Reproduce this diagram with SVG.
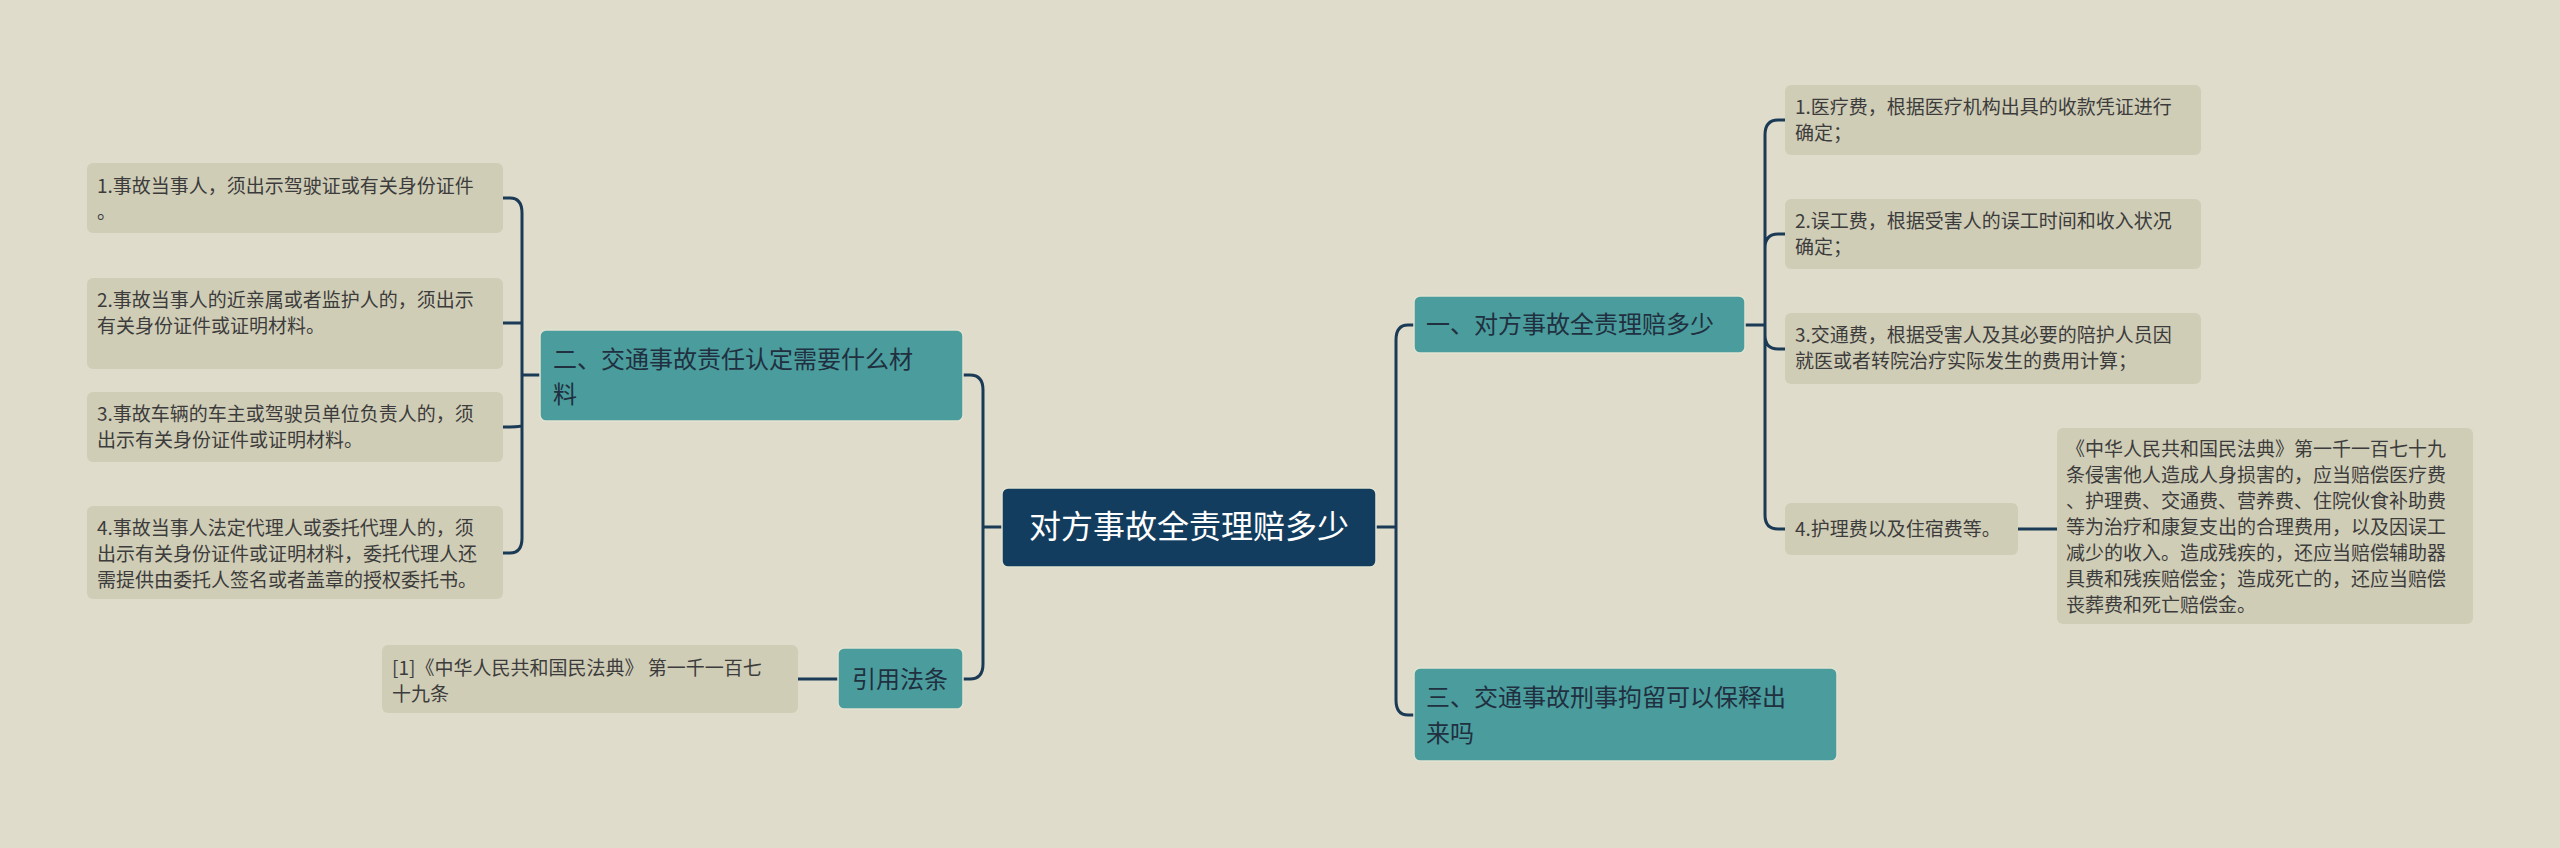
<svg xmlns="http://www.w3.org/2000/svg" width="2560" height="848" viewBox="0 0 2560 848">
<style>
text{font-family:"Noto Sans CJK SC","Noto Sans",sans-serif}
.leaf{fill:#d0cdb6}
.lt{font-size:19px;fill:#3c3c3c}
.br{fill:#4b9c9c;stroke:#e2e2d0;stroke-width:1.5}
.bt{font-size:24px;fill:#203040}
.c{fill:none;stroke:#1b3a55;stroke-width:3}
</style>
<rect width="2560" height="848" fill="#dfdccc"/>
<g id="connectors">
<path class="c" d="M1002 527 H983 M983 527 V390 Q983 375 970 375 H963 M983 527 V664 Q983 679 970 679 H963"/>
<path class="c" d="M540 375 H522 M522 375 V213 Q522 198 510 198 H503 M522 375 V538 Q522 553 510 553 H503 M522 323 Q522 323 510 323 H503 M522 425 Q522 427 510 427 H503 M522 213 V538"/>
<path class="c" d="M838 679 H798"/>
<path class="c" d="M1376 527 H1396 M1396 527 V340 Q1396 325 1408 325 H1414 M1396 527 V700 Q1396 715 1408 715 H1414"/>
<path class="c" d="M1745 325 H1765 M1765 135 V515 Q1765 529 1778 529 H1785 M1765 135 Q1765 120 1778 120 H1785 M1765 248 Q1765 234 1778 234 H1785 M1765 335 Q1765 349 1778 349 H1785"/>
<path class="c" d="M2018 529 H2057"/>
</g>
<g id="root"><rect x="1002" y="488" width="374" height="79" rx="6" fill="#133d5e" stroke="#e2e2d0" stroke-width="1.5"/><text x="1189" y="538" text-anchor="middle" font-size="32" fill="#ffffff">对方事故全责理赔多少</text></g>
<g id="b2"><rect class="br" x="540" y="330" width="423" height="91" rx="6"/><text class="bt" x="553" y="368">二、交通事故责任认定需要什么材</text><text class="bt" x="553" y="403">料</text></g>
<g id="cite"><rect class="br" x="838" y="648" width="125" height="61" rx="6"/><text class="bt" x="900" y="688" text-anchor="middle">引用法条</text></g>
<g id="l1"><rect class="leaf" x="87" y="163" width="416" height="70" rx="6"/><text class="lt" x="97" y="193">1.事故当事人，须出示驾驶证或有关身份证件</text><text class="lt" x="97" y="219">。</text></g>
<g id="l2"><rect class="leaf" x="87" y="278" width="416" height="91" rx="6"/><text class="lt" x="97" y="307">2.事故当事人的近亲属或者监护人的，须出示</text><text class="lt" x="97" y="333">有关身份证件或证明材料。</text></g>
<g id="l3"><rect class="leaf" x="87" y="392" width="416" height="70" rx="6"/><text class="lt" x="97" y="421">3.事故车辆的车主或驾驶员单位负责人的，须</text><text class="lt" x="97" y="447">出示有关身份证件或证明材料。</text></g>
<g id="l4"><rect class="leaf" x="87" y="506" width="416" height="93" rx="6"/><text class="lt" x="97" y="535">4.事故当事人法定代理人或委托代理人的，须</text><text class="lt" x="97" y="561">出示有关身份证件或证明材料，委托代理人还</text><text class="lt" x="97" y="587">需提供由委托人签名或者盖章的授权委托书。</text></g>
<g id="c1"><rect class="leaf" x="382" y="645" width="416" height="68" rx="6"/><text class="lt" x="392" y="675">[1]《中华人民共和国民法典》 第一千一百七</text><text class="lt" x="392" y="701">十九条</text></g>
<g id="b1"><rect class="br" x="1414" y="296" width="331" height="57" rx="6"/><text class="bt" x="1426" y="333">一、对方事故全责理赔多少</text></g>
<g id="b3"><rect class="br" x="1414" y="668" width="423" height="93" rx="6"/><text class="bt" x="1426" y="706">三、交通事故刑事拘留可以保释出</text><text class="bt" x="1426" y="742">来吗</text></g>
<g id="r1"><rect class="leaf" x="1785" y="85" width="416" height="70" rx="6"/><text class="lt" x="1795" y="114">1.医疗费，根据医疗机构出具的收款凭证进行</text><text class="lt" x="1795" y="140">确定；</text></g>
<g id="r2"><rect class="leaf" x="1785" y="199" width="416" height="70" rx="6"/><text class="lt" x="1795" y="228">2.误工费，根据受害人的误工时间和收入状况</text><text class="lt" x="1795" y="254">确定；</text></g>
<g id="r3"><rect class="leaf" x="1785" y="313" width="416" height="71" rx="6"/><text class="lt" x="1795" y="342">3.交通费，根据受害人及其必要的陪护人员因</text><text class="lt" x="1795" y="368">就医或者转院治疗实际发生的费用计算；</text></g>
<g id="r4"><rect class="leaf" x="1785" y="503" width="233" height="52" rx="6"/><text class="lt" x="1795" y="536">4.护理费以及住宿费等。</text></g>
<g id="d1"><rect class="leaf" x="2057" y="428" width="416" height="196" rx="6"/>
<text class="lt" x="2066" y="456">《中华人民共和国民法典》第一千一百七十九</text>
<text class="lt" x="2066" y="482">条侵害他人造成人身损害的，应当赔偿医疗费</text>
<text class="lt" x="2066" y="508">、护理费、交通费、营养费、住院伙食补助费</text>
<text class="lt" x="2066" y="534">等为治疗和康复支出的合理费用，以及因误工</text>
<text class="lt" x="2066" y="560">减少的收入。造成残疾的，还应当赔偿辅助器</text>
<text class="lt" x="2066" y="586">具费和残疾赔偿金；造成死亡的，还应当赔偿</text>
<text class="lt" x="2066" y="612">丧葬费和死亡赔偿金。</text></g>
</svg>
